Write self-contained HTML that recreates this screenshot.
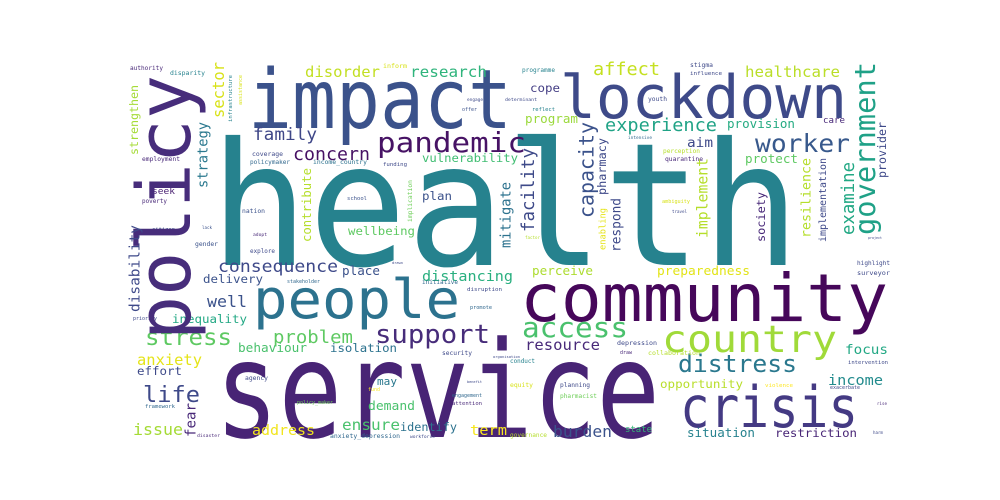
<!DOCTYPE html>
<html><head><meta charset="utf-8"><style>
html,body{margin:0;padding:0;background:#fff;}
svg{display:block;}
text{font-family:"DejaVu Sans Mono","Liberation Mono",monospace;}
</style></head>
<body>
<svg id="cloud" width="1000" height="500" viewBox="0 0 1000 500" xmlns="http://www.w3.org/2000/svg">
<rect width="1000" height="500" fill="#fff"/>
</svg>
<script>
// horizontal words: text, left x, right x, baseline y, colour, optional size factor
const hWords = [
["health",210,800,265,"#26828e",1.1],["service",215,660,437,"#482475",1.33],["impact",248,512,128,"#3b528b",1.18],
["lockdown",560,847,118,"#3e4a89",1.05],["community",520,888,321,"#46075a",1.02],["people",253,460,318,"#2c728e",0.99],
["crisis",680,858,427,"#443a83",1.22],["country",662,837,352,"#a0da39",0.95],["pandemic",377,526,152,"#471365",0.95],
["support",375,490,343,"#472c7a"],["access",522,628,337,"#4ac16d"],["distress",678,797,372,"#2a788e"],
["worker",755,850,152,"#38598c"],["experience",605,717,131,"#20a386"],["disorder",305,380,77,"#c2df23"],
["research",410,487,77,"#2fb47c"],["family",253,317,140,"#3f4788"],["concern",293,370,160,"#471164"],
["vulnerability",422,518,162,"#40bd72"],["affect",593,660,75,"#c5e021"],["healthcare",745,840,77,"#bade28"],
["cope",530,560,92,"#433d84"],["program",525,578,123,"#9bd93c"],["provision",727,795,128,"#25ab82"],
["aim",687,713,147,"#3e4989"],["protect",745,798,163,"#5ec962"],["plan",422,452,200,"#3b528b"],
["wellbeing",348,415,235,"#5ec962"],["seek",152,175,194,"#481f70"],["consequence",218,338,272,"#3e4989"],
["place",342,380,275,"#3b528b"],["distancing",422,513,281,"#29af7f"],["delivery",203,263,283,"#3b528b"],
["well",207,247,307,"#3b528b"],["inequality",172,247,323,"#22a884"],["stress",145,232,345,"#5ec962"],
["problem",273,353,343,"#5ec962"],["anxiety",137,202,365,"#e5e419"],["behaviour",238,307,352,"#4ac16d"],
["isolation",330,397,352,"#2c728e"],["effort",137,182,375,"#3e4a89"],["life",143,200,402,"#3e4989"],
["may",377,397,385,"#2a788e"],["demand",368,415,410,"#4ac16d"],["issue",133,183,435,"#a5db36"],
["address",252,315,435,"#f1e51d"],["ensure",342,400,430,"#4ac16d"],["identify",400,457,431,"#2c728e"],
["term",470,507,435,"#f6e620"],["perceive",532,593,275,"#addc30"],["preparedness",657,750,275,"#e2e418"],
["resource",525,600,350,"#482979"],["focus",845,888,354,"#22a884"],["income",828,883,385,"#228b8d"],
["opportunity",660,743,388,"#b8de29"],["burden",553,612,437,"#3b528b"],["state",625,652,432,"#35b779"],
["situation",687,755,437,"#26828e"],["restriction",775,857,437,"#482576"],
["authority",130,163,70,"#482878"],["disparity",170,205,75,"#26828e"],["inform",383,407,68,"#d8e219"],
["engage",467,483,101,"#3e4989"],["offer",462,477,111,"#3b528b"],["employment",142,180,161,"#482878"],
["coverage",252,283,156,"#3e4989"],["policymaker",250,290,164,"#31688e"],["income_country",313,367,164,"#2c728e"],
["funding",383,407,166,"#3e4989"],["school",347,367,200,"#3b528b"],["poverty",142,167,203,"#482878"],
["nation",242,265,213,"#3b528b"],["citizen",152,175,231,"#3b528b"],["lack",202,212,229,"#3b528b"],
["adopt",253,267,236,"#482878"],["gender",195,218,246,"#3b528b"],["explore",250,275,253,"#3e4989"],
["priority",133,157,320,"#3e4989"],["stakeholder",287,320,283,"#31688e"],["initiative",422,458,284,"#31688e"],
["drawn",392,403,264,"#3e4989"],["disruption",467,502,291,"#3e4989"],["promote",470,492,309,"#31688e"],
["security",442,472,355,"#3e4989"],["organisation",493,520,358,"#3e4989"],["agency",245,268,380,"#3e4989"],
["framework",145,175,408,"#31688e"],["policy_maker",297,333,404,"#6ece58"],["fund",368,380,391,"#fde725"],
["benefit",467,482,383,"#3e4989"],["engagement",452,482,397,"#31688e"],["attention",452,482,405,"#482878"],
["disaster",197,220,437,"#482878"],["anxiety_depression",330,400,438,"#31688e"],["workforce",410,435,438,"#3e4989"],
["programme",522,555,72,"#26828e"],["stigma",690,713,67,"#3e4989"],["influence",690,722,75,"#3e4989"],
["determinant",505,537,101,"#3e4989"],["youth",648,667,101,"#3e4989"],["reflect",532,555,111,"#26828e"],
["care",823,845,123,"#482878"],["intensive",628,652,139,"#31688e"],["perception",663,700,153,"#b5de2b"],
["quarantine",665,703,161,"#482878"],["ambiguity",662,690,203,"#d8e219"],["travel",672,687,213,"#3e4989"],
["factor",525,540,239,"#b5de2b"],["project",868,882,239,"#3e4989"],["highlight",857,890,265,"#3e4989"],
["surveyor",857,890,275,"#3e4989"],["depression",617,657,345,"#3e4989"],["draw",620,632,354,"#482878"],
["collaboration",648,700,355,"#b5de2b"],["conduct",510,535,363,"#26828e"],["intervention",848,888,364,"#3e4989"],
["equity",510,533,387,"#d8e219"],["planning",560,590,387,"#3e4989"],["pharmacist",560,597,398,"#6ece58"],
["violence",765,793,387,"#fde725"],["exacerbate",830,860,389,"#3e4989"],["rise",877,887,405,"#482878"],
["governance",510,547,437,"#b5de2b"],["harm",873,883,434,"#3e4989"]
];
// vertical words (read bottom-to-top): text, right x, top y, bottom y, colour
const vWords = [
["policy",203,75,340,"#472d7b"],["government",880,62,235,"#1fa187"],["capacity",597,122,218,"#3b528b"],
["facility",537,148,232,"#3e4a89"],["strategy",210,122,188,"#2a788e"],["sector",227,62,118,"#d8e219"],
["strengthen",140,85,155,"#a5db36"],["contribute",313,168,242,"#b5de2b"],["mitigate",513,182,248,"#2c728e"],
["resilience",813,158,238,"#b5de2b"],["implementation",828,158,242,"#3e4989"],["examine",857,162,235,"#22a884"],
["implement",710,158,238,"#b5de2b"],["society",767,192,242,"#482878"],["respond",623,198,252,"#3e4989"],
["pharmacy",608,138,195,"#3e4989"],["provider",888,122,178,"#3e4989"],["fear",198,403,437,"#482878"],
["disability",142,225,312,"#3e4989"],["infrastructure",233,75,122,"#26828e"],["assistance",243,75,105,"#d8e219"],
["implication",413,180,222,"#6ece58"],["enabling",607,208,250,"#e5e419"]
];
const NS = "http://www.w3.org/2000/svg";
const svg = document.getElementById("cloud");
for (const w of hWords) {
  const len = w[2] - w[1];
  const f = w[5] || 1;
  const size = 0.95 * f * len / (w[0].length * 0.6);
  const t = document.createElementNS(NS, "text");
  t.setAttribute("x", w[1]);
  t.setAttribute("y", w[3]);
  t.setAttribute("font-size", size.toFixed(1));
  t.setAttribute("fill", w[4]);
  t.setAttribute("textLength", len);
  t.setAttribute("lengthAdjust", "spacingAndGlyphs");
  
  
  t.textContent = w[0];
  svg.appendChild(t);
}
for (const w of vWords) {
  const len = w[3] - w[2];
  const size = 1.0 * len / (w[0].length * 0.6);
  const bx = w[1] - 0.18 * size;
  const t = document.createElementNS(NS, "text");
  t.setAttribute("x", 0);
  t.setAttribute("y", 0);
  t.setAttribute("transform", "translate(" + bx.toFixed(1) + "," + w[3] + ") rotate(-90)");
  t.setAttribute("font-size", size.toFixed(1));
  t.setAttribute("fill", w[4]);
  t.setAttribute("textLength", len);
  t.setAttribute("lengthAdjust", "spacingAndGlyphs");
  
  
  t.textContent = w[0];
  svg.appendChild(t);
}
</script>
</body></html>
